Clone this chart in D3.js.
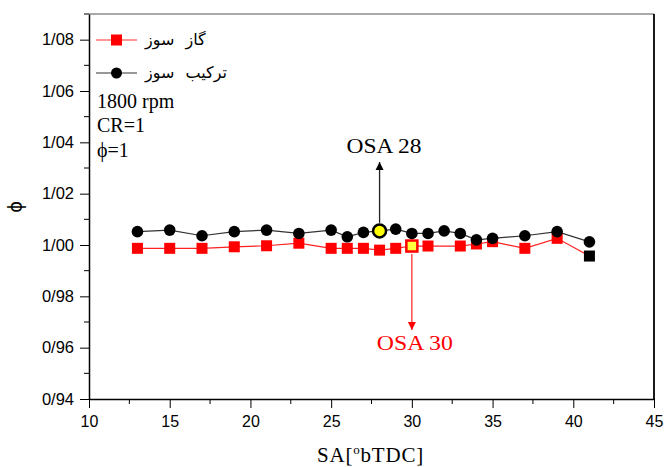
<!DOCTYPE html>
<html>
<head>
<meta charset="utf-8">
<script src="https://cdn.jsdelivr.net/npm/d3@7"></script>
<style>
  html, body { margin: 0; padding: 0; background: #fff; }
  svg { display: block; }
</style>
</head>
<body>
<script>
// ---- data ----
const saBlack = [13, 15, 17, 19, 21, 23, 25, 26, 27, 28, 29, 30, 31, 32, 33, 34, 35, 37, 39, 41];
const phiBlack = [1.0052, 1.0058, 1.0036, 1.0052, 1.0058, 1.0045, 1.0058, 1.0032, 1.0049, 1.0055, 1.0062, 1.0045, 1.0045, 1.0055, 1.0045, 1.0020, 1.0026, 1.0036, 1.0052, 1.0012];
const saRed = [13, 15, 17, 19, 21, 23, 25, 26, 27, 28, 29, 30, 31, 33, 34, 35, 37, 39, 41];
const phiRed = [0.9987, 0.9987, 0.9987, 0.9993, 0.9997, 1.0007, 0.9987, 0.9987, 0.9987, 0.9980, 0.9987, 0.9996, 0.9996, 0.9996, 1.0004, 1.0013, 0.9987, 1.0026, 0.9957];
const seriesNames = ["گاز سوز", "ترکیب سوز"];
const xTicks = [10, 15, 20, 25, 30, 35, 40, 45];
const yTicks = [0.94, 0.96, 0.98, 1.00, 1.02, 1.04, 1.06, 1.08];
const infoLines = ["1800 rpm", "CR=1", "ϕ=1"];
const osaBlack = { sa: 28, label: "OSA 28" };
const osaRed = { sa: 30, label: "OSA 30" };

// ---- layout ----
const W = 665, H = 467;
const L = 89, R = 654, T = 14, B = 399;

const svg = d3.select("body").append("svg").attr("width", W).attr("height", H);

const x = d3.scaleLinear().domain([10, 45]).range([L, R]);
const y = d3.scaleLinear().domain([0.94, 1.09]).range([B, T]);

const fmt = v => d3.format(".2f")(v).replace(".", "/");

// frame (top and right)
svg.append("line").attr("x1", L).attr("x2", R).attr("y1", T).attr("y2", T)
  .attr("stroke", "#555").attr("stroke-width", 1.2);
svg.append("line").attr("x1", R).attr("x2", R).attr("y1", T).attr("y2", B)
  .attr("stroke", "#000").attr("stroke-width", 1.8);

// x axis
const xMinor = d3.range(12.5, 45, 5);
const gx = svg.append("g").attr("transform", `translate(0,${B})`);
gx.call(d3.axisBottom(x).tickValues(xTicks).tickSize(9).tickPadding(8).tickSizeOuter(0));
gx.append("g").selectAll("line").data(xMinor).join("line")
  .attr("x1", d => x(d)).attr("x2", d => x(d)).attr("y1", 0).attr("y2", 5)
  .attr("stroke", "#000");
gx.select(".domain").attr("stroke-width", 1.5);
gx.selectAll("text").attr("font-family", "'Liberation Sans', Arial, sans-serif").attr("font-size", 16).attr("fill", "#000");

// y axis
const yMinor = d3.range(0.95, 1.09, 0.02);
const gy = svg.append("g").attr("transform", `translate(${L},0)`);
gy.call(d3.axisLeft(y).tickValues(yTicks).tickFormat(fmt).tickSize(9).tickPadding(6).tickSizeOuter(0));
gy.append("g").selectAll("line").data(yMinor).join("line")
  .attr("y1", d => y(d)).attr("y2", d => y(d)).attr("x1", 0).attr("x2", -5)
  .attr("stroke", "#000");
gy.select(".domain").attr("stroke-width", 1.5);
gy.selectAll("text").attr("font-family", "'Liberation Sans', Arial, sans-serif").attr("font-size", 16.5).attr("fill", "#000");

// axis titles
svg.append("text").attr("x", (L + R) / 2 - 1).attr("y", 462).attr("text-anchor", "middle")
  .attr("font-family", "'Liberation Serif', 'Times New Roman', serif").attr("font-size", 21)
  .attr("letter-spacing", 0.8)
  .html('SA[<tspan dy="-8" font-size="13">o</tspan><tspan dy="8">bTDC]</tspan>');
svg.append("text").attr("transform", "translate(22,207) rotate(-90)").attr("text-anchor", "middle")
  .attr("font-family", "'Liberation Sans', Arial, sans-serif").attr("font-size", 20)
  .text("ϕ");

// lines
const line = d3.line().x(d => x(d[0])).y(d => y(d[1]));
const blackPts = saBlack.map((s, i) => [s, phiBlack[i]]);
const redPts = saRed.map((s, i) => [s, phiRed[i]]);

svg.append("path").datum(redPts).attr("d", line).attr("fill", "none")
  .attr("stroke", "#ff2020").attr("stroke-width", 1.2);
svg.append("path").datum(blackPts).attr("d", line).attr("fill", "none")
  .attr("stroke", "#333").attr("stroke-width", 1.2);

// markers
const sq = 11;
svg.append("g").selectAll("rect").data(redPts).join("rect")
  .attr("x", d => x(d[0]) - sq / 2).attr("y", d => y(d[1]) - sq / 2)
  .attr("width", sq).attr("height", sq)
  .attr("fill", (d, i) => i === redPts.length - 1 ? "#000" : (d[0] === osaRed.sa ? "#ffff40" : "#ff0000"))
  .attr("stroke", (d, i) => d[0] === osaRed.sa ? "#ff0000" : "none")
  .attr("stroke-width", 2.5);
svg.append("g").selectAll("circle").data(blackPts).join("circle")
  .attr("cx", d => x(d[0])).attr("cy", d => y(d[1]))
  .attr("r", d => d[0] === osaBlack.sa ? 6.5 : 5.8)
  .attr("fill", d => d[0] === osaBlack.sa ? "#ffff00" : "#000")
  .attr("stroke", "#000")
  .attr("stroke-width", d => d[0] === osaBlack.sa ? 2.5 : 0);

// arrows
const defs = svg.append("defs");
function marker(id, color) {
  defs.append("marker").attr("id", id).attr("viewBox", "0 0 10 10").attr("refX", 10).attr("refY", 5)
    .attr("markerWidth", 8).attr("markerHeight", 10).attr("markerUnits", "userSpaceOnUse").attr("orient", "auto")
    .append("path").attr("d", "M0,0 L10,5 L0,10 Z").attr("fill", color);
}
marker("ahBlack", "#000");
marker("ahRed", "#ff0000");

const bIdx = saBlack.indexOf(osaBlack.sa);
svg.append("line").attr("x1", x(osaBlack.sa)).attr("x2", x(osaBlack.sa))
  .attr("y1", y(phiBlack[bIdx]) - 8).attr("y2", 162)
  .attr("stroke", "#222").attr("stroke-width", 1.3).attr("marker-end", "url(#ahBlack)");
svg.append("text").attr("x", x(osaBlack.sa) - 33).attr("y", 153)
  .attr("font-family", "'Liberation Serif', 'Times New Roman', serif").attr("font-size", 20)
  .attr("textLength", 75).attr("lengthAdjust", "spacingAndGlyphs")
  .attr("fill", "#000").text(osaBlack.label);

const rIdx = saRed.indexOf(osaRed.sa);
svg.append("line").attr("x1", x(osaRed.sa)).attr("x2", x(osaRed.sa))
  .attr("y1", y(phiRed[rIdx]) + 8).attr("y2", 330)
  .attr("stroke", "#ff3030").attr("stroke-width", 1.3).attr("marker-end", "url(#ahRed)");
svg.append("text").attr("x", x(osaRed.sa) - 35).attr("y", 350)
  .attr("font-family", "'Liberation Serif', 'Times New Roman', serif").attr("font-size", 20)
  .attr("textLength", 76).attr("lengthAdjust", "spacingAndGlyphs")
  .attr("fill", "#ff0000").text(osaRed.label);

// legend
const lg = svg.append("g");
const legY = [40, 73];
const legColors = ["#ff0000", "#000"];
legY.forEach((ly, i) => {
  lg.append("line").attr("x1", 96).attr("x2", 137).attr("y1", ly).attr("y2", ly)
    .attr("stroke", i === 0 ? "#ff3030" : "#333").attr("stroke-width", 1.2);
  if (i === 0) {
    lg.append("rect").attr("x", 116.5 - 5.5).attr("y", ly - 5.5).attr("width", 11).attr("height", 11).attr("fill", legColors[i]);
  } else {
    lg.append("circle").attr("cx", 116.5).attr("cy", ly).attr("r", 5.5).attr("fill", legColors[i]);
  }
  lg.append("text").attr("x", 145).attr("y", ly + 5).attr("text-anchor", "start")
    .attr("font-family", "'DejaVu Sans', sans-serif").attr("font-size", 16)
    .attr("word-spacing", 6)
    .text(seriesNames[i]);
});

// info text
const infoY = [108, 132, 156.5];
infoLines.forEach((t, i) => {
  svg.append("text").attr("x", 97).attr("y", infoY[i])
    .attr("font-family", "'Liberation Serif', 'Times New Roman', serif").attr("font-size", 20)
    .attr("fill", "#000").text(t);
});
</script>
</body>
</html>
